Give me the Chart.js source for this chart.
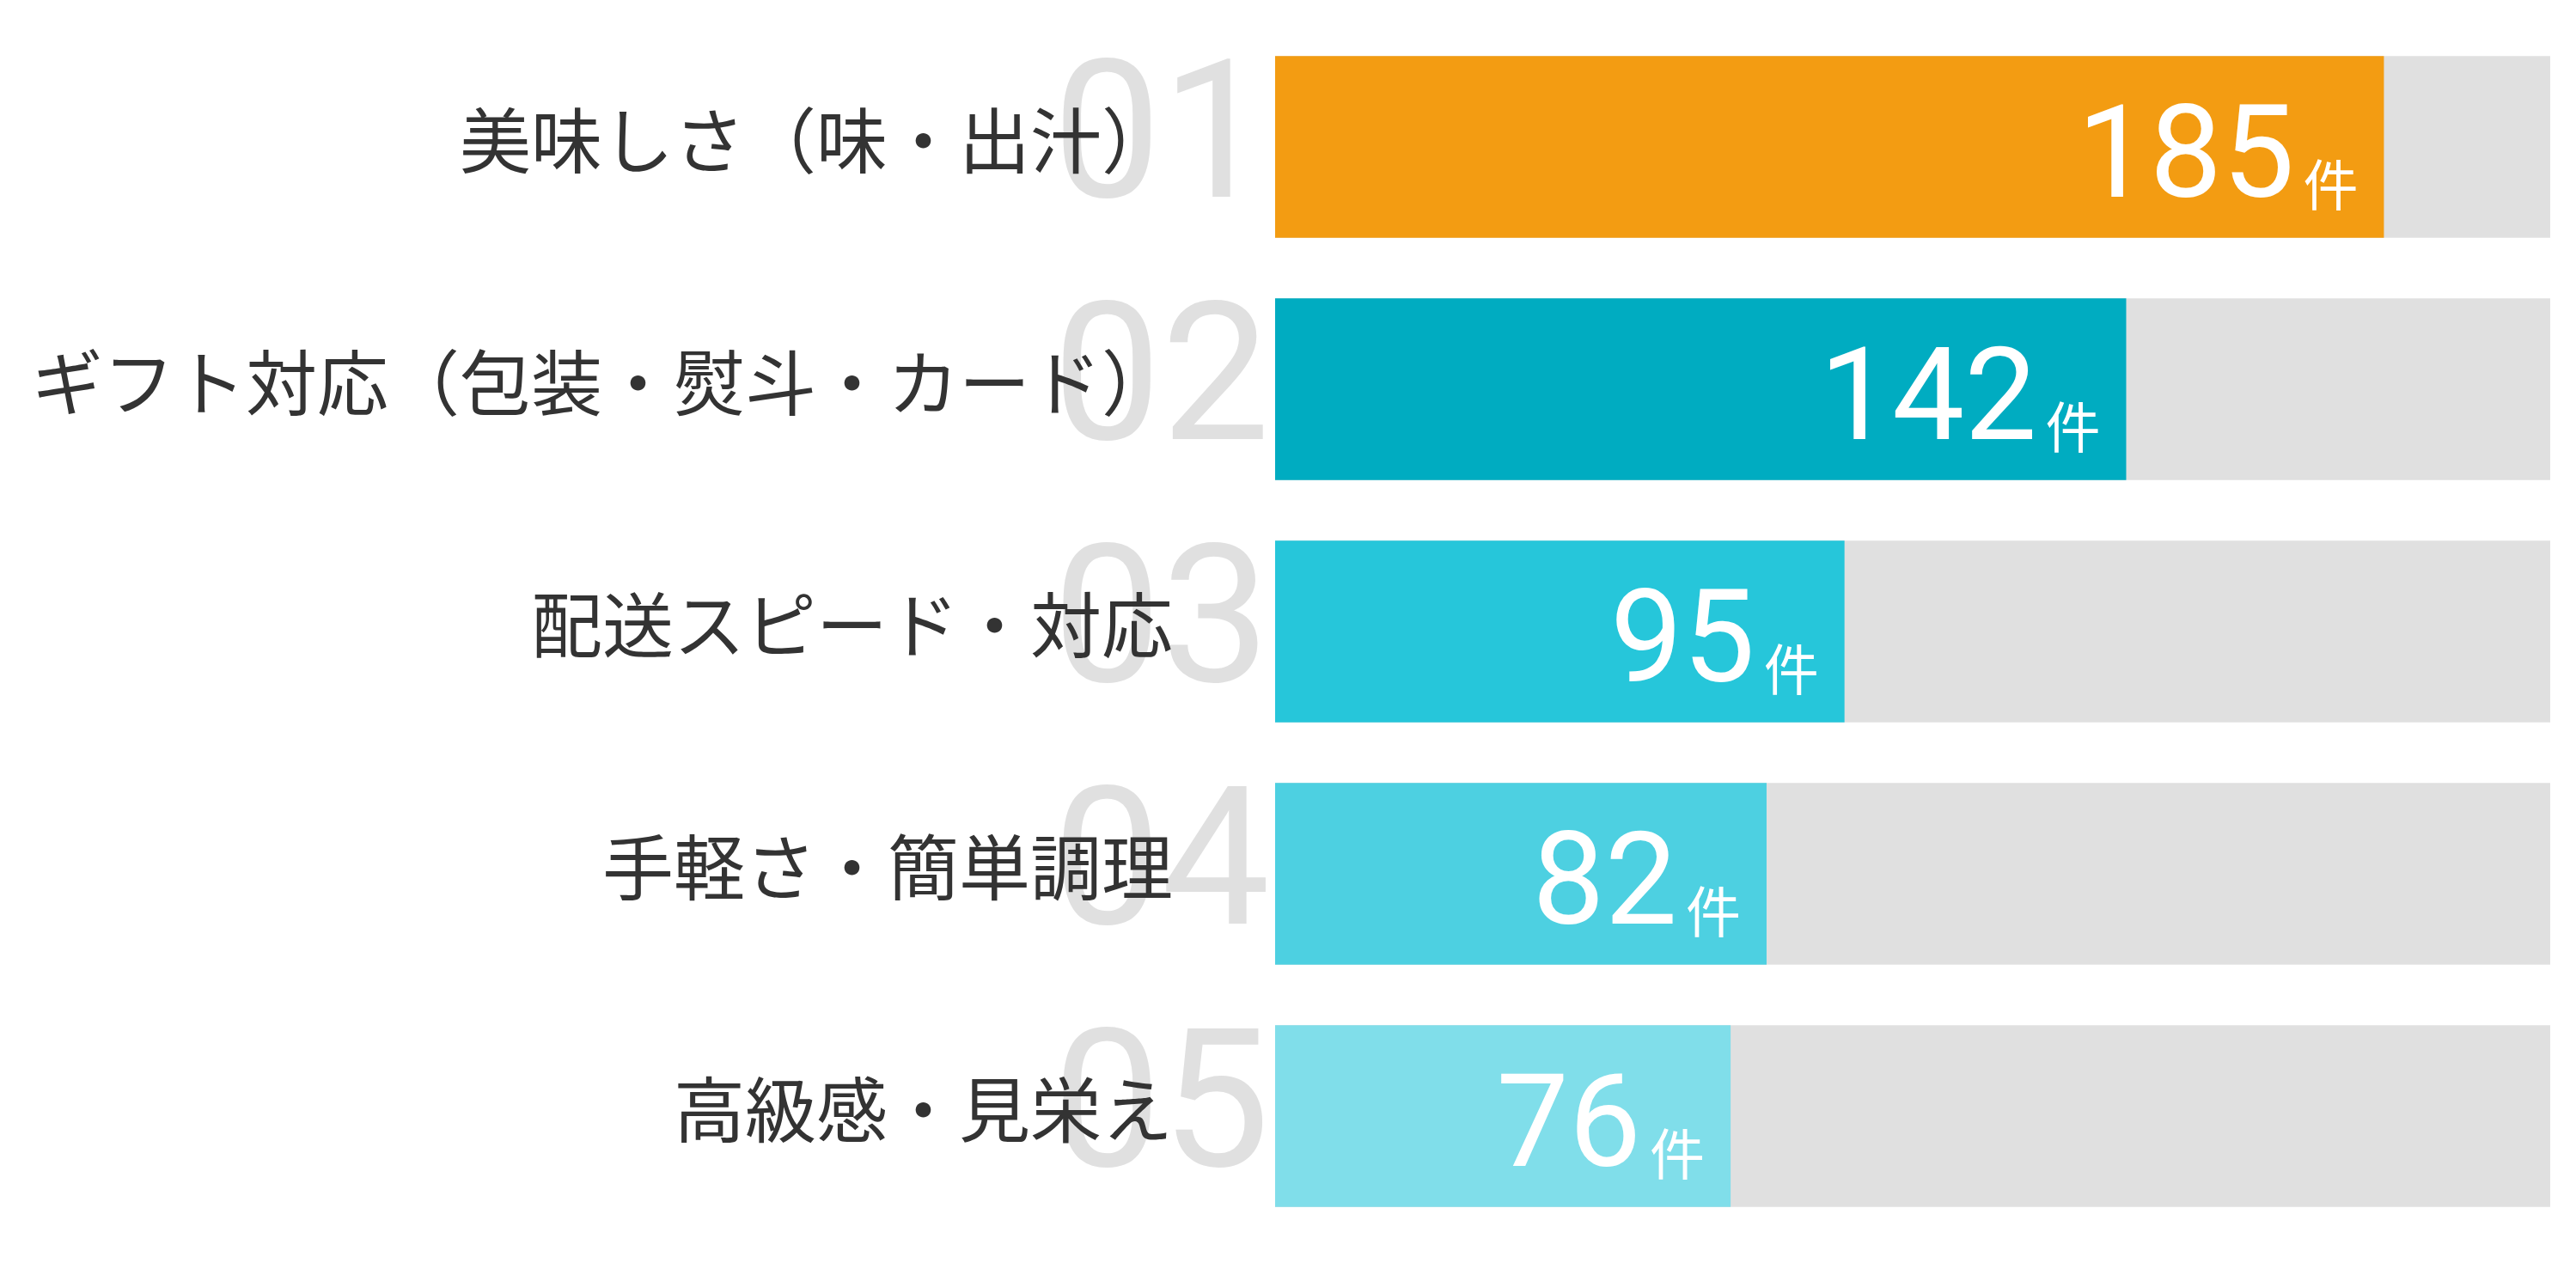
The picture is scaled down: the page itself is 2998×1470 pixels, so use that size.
<!DOCTYPE html>
<html>
<head>
<meta charset="utf-8">
<script src="https://cdn.jsdelivr.net/npm/chart.js@4"></script>
<style>
  html, body { margin: 0; padding: 0; background: #ffffff; }
  #wrap { width: 2998px; height: 1470px; }
</style>
</head>
<body>
<div id="wrap"><canvas id="rankGraph" width="2998" height="1470"></canvas></div>
<script>
const categories = ['美味しさ（味・出汁）', 'ギフト対応（包装・熨斗・カード）', '配送スピード・対応', '手軽さ・簡単調理', '高級感・見栄え'];
const counts = [185, 142, 95, 82, 76];
const rankLabels = ['01', '02', '03', '04', '05'];
const barColors = ['#F39C12', '#00ACC1', '#26C6DA', '#4DD0E1', '#80DEEA'];
const unitLabel = '件';

const xMax = Math.max(...counts) * 1.15;
const trackValues = counts.map(() => xMax);

const rankGraph_el = document.getElementById('rankGraph');
const ctxRank = rankGraph_el.getContext('2d');

// big grey rank numbers, drawn before the axis so the labels sit on top
const rankNumbers = {
  id: 'rankNumbers',
  beforeDraw(chart) {
    const ctx = chart.ctx;
    const yScale = chart.scales.y;
    ctx.save();
    ctx.fillStyle = '#e0e0e0';
    ctx.font = '400 225px Roboto';
    ctx.textAlign = 'right';
    ctx.textBaseline = 'alphabetic';
    rankLabels.forEach((txt, i) => {
      const y = yScale.getPixelForValue(i);
      ctx.fillText(txt, chart.chartArea.left - 6, y + 58);
    });
    ctx.restore();
  }
};

// "185件" inside each bar
const valueLabels = {
  id: 'valueLabels',
  afterDatasetsDraw(chart) {
    const ctx = chart.ctx;
    const meta = chart.getDatasetMeta(0);
    ctx.save();
    ctx.fillStyle = '#ffffff';
    ctx.textAlign = 'right';
    meta.data.forEach((bar, i) => {
      const xEnd = bar.x - 30;
      ctx.font = '400 64px "Noto Sans CJK JP"';
      ctx.textBaseline = 'middle';
      ctx.fillText(unitLabel, xEnd, bar.y + 44);
      const unitW = ctx.measureText(unitLabel).width;
      ctx.font = '400 150px Roboto';
      ctx.textBaseline = 'alphabetic';
      ctx.fillText(String(counts[i]), xEnd - unitW - 10, bar.y + 58);
    });
    ctx.restore();
  }
};

new Chart(ctxRank, {
  type: 'bar',
  data: {
    labels: categories,
    datasets: [{
      label: 'count',
      data: counts,
      backgroundColor: barColors,
      borderWidth: 0,
      grouped: false,
      order: 0
    },
    {
      label: 'track',
      data: trackValues,
      backgroundColor: '#e0e0e0',
      borderWidth: 0,
      grouped: false,
      order: 1
    }]
  },
  options: {
    indexAxis: 'y',
    responsive: false,
    animation: false,
    devicePixelRatio: 1,
    categoryPercentage: 0.75,
    barPercentage: 1,
    layout: {
      padding: { top: 30, bottom: 30, left: 0, right: 30 }
    },
    plugins: {
      legend: { display: false },
      tooltip: { enabled: false }
    },
    scales: {
      x: {
        display: false,
        min: 0,
        max: xMax
      },
      y: {
        afterFit: (scale) => {
          scale.width = 1484;
          // the big tick padding would otherwise push the plot in vertically
          scale.paddingTop = 0;
          scale.paddingBottom = 0;
        },
        grid: { display: false, drawTicks: false },
        border: { display: false },
        ticks: {
          color: '#333333',
          padding: 119,
          labelOffset: -8,
          font: { family: '"Noto Sans CJK JP"', size: 83 }
        }
      }
    }
  },
  plugins: [rankNumbers, valueLabels]
});
</script>
</body>
</html>
